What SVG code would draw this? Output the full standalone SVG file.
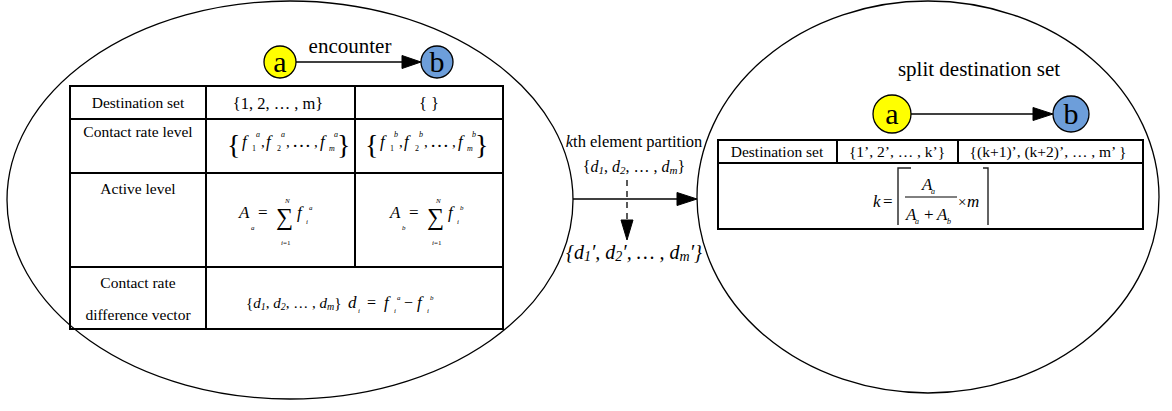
<svg xmlns="http://www.w3.org/2000/svg" width="1172" height="411" viewBox="0 0 1172 411" font-family="'Liberation Serif', 'DejaVu Serif', serif">
<style>
text, tspan{font-family:"Liberation Serif","DejaVu Serif",serif;fill:#000}
.t{font-size:15.5px;text-anchor:middle}
.c{text-anchor:middle}
.i{font-style:italic}
.grid{stroke:#000;stroke-width:2;fill:none}
.ell{fill:#fff;stroke:#000;stroke-width:1.3}
.edge{stroke:#000;stroke-width:1.3;fill:none}
.head{fill:#000;stroke:#000}
.na{fill:#ffff00;stroke:#000;stroke-width:1.3}
.nb{fill:#6d9eda;stroke:#000;stroke-width:1.3}
.lt{font-size:30px;text-anchor:middle}
</style>
<rect width="1172" height="411" fill="#fff"/>

<g id="cluster-left">
  <ellipse class="ell" cx="290" cy="200" rx="283" ry="199"/>
  <text x="350" y="53" class="c" font-size="21">encounter</text>
</g>
<g id="node-a1"><circle class="na" cx="280" cy="62" r="16"/><text class="lt" x="280" y="72">a</text></g>
<g id="node-b1"><circle class="nb" cx="437" cy="62" r="16"/><text class="lt" x="437" y="72">b</text></g>

<g id="table-left">
  <rect class="grid" x="70" y="86" width="433" height="243"/>
  <path class="grid" d="M70 119H503M70 173H503M70 267H503M206 86V329M355 86V267"/>
  <text class="t" x="138" y="108">Destination set</text>
  <text x="278" y="109" class="c" font-size="16.5">{1, 2, … , m}</text>
  <text x="429" y="109" class="c" font-size="16.5">{ }</text>
  <text class="t" x="138" y="137">Contact rate level</text>
  <text class="t" x="138" y="194">Active level</text>
  <text class="t" x="138" y="288">Contact rate</text>
  <text class="t" x="138" y="320">difference vector</text>
  <g id="fa">
    <text x="227" y="154" font-size="28">{</text>
    <text x="242" y="147" font-size="17" class="i">f</text>
    <text x="256" y="137" font-size="8" class="i">a</text>
    <text x="252" y="151" font-size="8">1</text>
    <text x="261" y="147" font-size="15">,</text>
    <text x="266" y="147" font-size="17" class="i">f</text>
    <text x="281" y="137" font-size="8" class="i">a</text>
    <text x="277" y="151" font-size="8">2</text>
    <text x="286" y="147" font-size="15">,</text>
    <text x="292" y="147" font-size="19">…</text>
    <text x="314" y="147" font-size="15">,</text>
    <text x="320" y="147" font-size="17" class="i">f</text>
    <text x="334" y="137" font-size="8" class="i">a</text>
    <text x="329" y="151" font-size="8" class="i">m</text>
    <text x="337" y="154" font-size="28">}</text>
  </g>
  <g id="fb" transform="translate(138 0)">
    <text x="227" y="154" font-size="28">{</text>
    <text x="242" y="147" font-size="17" class="i">f</text>
    <text x="256" y="137" font-size="8" class="i">b</text>
    <text x="252" y="151" font-size="8">1</text>
    <text x="261" y="147" font-size="15">,</text>
    <text x="266" y="147" font-size="17" class="i">f</text>
    <text x="281" y="137" font-size="8" class="i">b</text>
    <text x="277" y="151" font-size="8">2</text>
    <text x="286" y="147" font-size="15">,</text>
    <text x="292" y="147" font-size="19">…</text>
    <text x="314" y="147" font-size="15">,</text>
    <text x="320" y="147" font-size="17" class="i">f</text>
    <text x="334" y="137" font-size="8" class="i">b</text>
    <text x="329" y="151" font-size="8" class="i">m</text>
    <text x="337" y="154" font-size="28">}</text>
  </g>
  <g id="sa">
    <text x="239" y="218" font-size="17" class="i">A</text>
    <text x="251" y="230" font-size="7" class="i">a</text>
    <text x="258" y="218" font-size="17">=</text>
    <text x="276" y="225" font-size="24">∑</text>
    <text x="285" y="203" font-size="7" class="i">N</text>
    <text x="281" y="245" font-size="7"><tspan class="i">i</tspan>=1</text>
    <text x="297" y="218" font-size="17" class="i">f</text>
    <text x="309" y="210" font-size="7" class="i">a</text>
    <text x="306" y="224" font-size="7" class="i">i</text>
  </g>
  <g id="sb" transform="translate(151 0)">
    <text x="239" y="218" font-size="17" class="i">A</text>
    <text x="251" y="230" font-size="7" class="i">b</text>
    <text x="258" y="218" font-size="17">=</text>
    <text x="276" y="225" font-size="24">∑</text>
    <text x="285" y="203" font-size="7" class="i">N</text>
    <text x="281" y="245" font-size="7"><tspan class="i">i</tspan>=1</text>
    <text x="297" y="218" font-size="17" class="i">f</text>
    <text x="309" y="210" font-size="7" class="i">b</text>
    <text x="306" y="224" font-size="7" class="i">i</text>
  </g>
  <g id="dv">
    <text x="246" y="308" font-size="15">{<tspan class="i">d</tspan><tspan class="i" font-size="10" dy="2">1</tspan><tspan dy="-2">, </tspan><tspan class="i">d</tspan><tspan class="i" font-size="10" dy="2">2</tspan><tspan dy="-2">, … , </tspan><tspan class="i">d</tspan><tspan class="i" font-size="10" dy="2">m</tspan><tspan dy="-2">}</tspan></text>
    <text x="348" y="308" font-size="17" class="i">d</text>
    <text x="358" y="313" font-size="7" class="i">i</text>
    <text x="367" y="308" font-size="16">=</text>
    <text x="384" y="308" font-size="17" class="i">f</text>
    <text x="397" y="300" font-size="7" class="i">a</text>
    <text x="394" y="313" font-size="7" class="i">i</text>
    <text x="404" y="308" font-size="16">−</text>
    <text x="417" y="308" font-size="17" class="i">f</text>
    <text x="430" y="300" font-size="7" class="i">b</text>
    <text x="427" y="313" font-size="7" class="i">i</text>
  </g>
</g>

<g id="cluster-right">
  <ellipse class="ell" cx="928" cy="197" rx="231" ry="196"/>
  <text x="979" y="76" class="c" font-size="21">split destination set</text>
</g>
<g id="node-a2"><circle class="na" cx="892" cy="114" r="19"/><text class="lt" x="892" y="124">a</text></g>
<g id="node-b2"><circle class="nb" cx="1071" cy="114" r="18"/><text class="lt" x="1071" y="124">b</text></g>

<g id="table-right">
  <rect class="grid" x="718" y="140" width="425" height="89" stroke-width="1.8"/>
  <path class="grid" stroke-width="1.8" d="M718 163H1143M837 140V163M958 140V163"/>
  <text class="t" x="777" y="157">Destination set</text>
  <text class="t" x="897" y="157">{1’, 2’, … , k’}</text>
  <text class="t" x="1048" y="157">{(k+1)’, (k+2)’, … , m’ }</text>
  <g id="kf">
    <text x="873" y="207" font-size="17" class="i">k</text>
    <text x="883" y="207" font-size="17">=</text>
    <path d="M911 168H898V225M983 168H988V225" stroke="#222" stroke-width="1.4" fill="none"/>
    <text x="922" y="190" font-size="17" class="i">A</text>
    <text x="931" y="194" font-size="8" class="i">a</text>
    <line x1="905" y1="197" x2="957" y2="197" stroke="#000" stroke-width="1"/>
    <text x="906" y="220" font-size="17" class="i">A</text>
    <text x="915" y="224" font-size="8" class="i">a</text>
    <text x="924" y="220" font-size="17">+</text>
    <text x="937" y="220" font-size="17" class="i">A</text>
    <text x="947" y="224" font-size="8" class="i">b</text>
    <text x="958" y="207" font-size="15">×</text>
    <text x="967" y="207" font-size="17" class="i">m</text>
  </g>
</g>

<g id="edge-labels">
  <text x="634" y="147" class="c" font-size="16.5"><tspan class="i">k</tspan>th element partition</text>
  <text x="634" y="172" class="c" font-size="16">{<tspan class="i">d</tspan><tspan class="i" font-size="11" dy="2">1</tspan><tspan dy="-2">, </tspan><tspan class="i">d</tspan><tspan class="i" font-size="11" dy="2">2</tspan><tspan dy="-2">, … , </tspan><tspan class="i">d</tspan><tspan class="i" font-size="11" dy="2">m</tspan><tspan dy="-2">}</tspan></text>
  <text x="634" y="259" class="c i" font-size="20">{d<tspan font-size="14" dy="2">1</tspan><tspan dy="-2">′, d</tspan><tspan font-size="14" dy="2">2</tspan><tspan dy="-2">′, … , d</tspan><tspan font-size="14" dy="2">m</tspan><tspan dy="-2">′}</tspan></text>
</g>

<g id="connectors">
  <line class="edge" x1="296" y1="62" x2="403" y2="62"/>
  <polygon class="head" points="402,55.5 421,62 402,68.5"/>
  <line class="edge" x1="911" y1="114" x2="1034" y2="114"/>
  <polygon class="head" points="1033,107.5 1053,114 1033,120.5"/>
  <line class="edge" x1="573" y1="199" x2="678" y2="199"/>
  <polygon class="head" points="677,192.5 697,199 677,205.5"/>
  <line class="edge" x1="627" y1="180" x2="627" y2="221" stroke-dasharray="6 5"/>
  <polygon class="head" points="621,220 627,240 633,220"/>
</g>
</svg>
